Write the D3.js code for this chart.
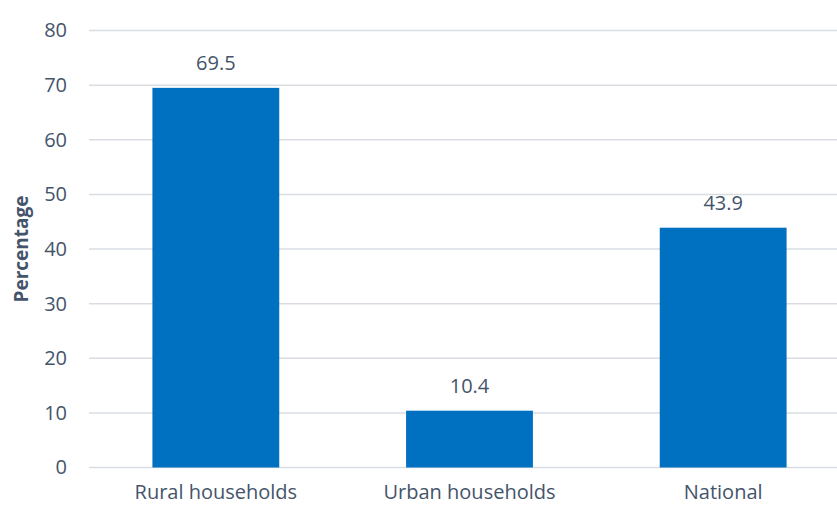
<!DOCTYPE html>
<html>
<head>
<meta charset="utf-8">
<script src="https://cdn.jsdelivr.net/npm/d3@7"></script>
<style>
  body { margin: 0; background: #fff; }
  text { font-family: "Open Sans", "Noto Sans", sans-serif; fill: #44546a; }
</style>
</head>
<body>
<div id="chart"></div>
<script>
//Chart data
const categories = ["Rural households", "Urban households", "National"];
const values = [69.5, 10.4, 43.9];
const yTicks = [0, 10, 20, 30, 40, 50, 60, 70, 80];

const width = 837;
const height = 506;

const svg = d3.select("#chart")
    .append("svg")
    .attr("width", width)
    .attr("height", height);

//Scales
const xScale = d3.scaleBand()
    .domain(categories)
    .range([89, 850])
    .paddingInner(0.5)
    .paddingOuter(0.25);

const yScale = d3.scaleLinear()
    .domain([0, 80])
    .range([467.5, 30.5]);

//Gridlines
svg.append("g")
    .selectAll("line")
    .data(yTicks)
    .enter()
    .append("line")
    .attr("x1", 89)
    .attr("x2", width)
    .attr("y1", d => yScale(d))
    .attr("y2", d => yScale(d))
    .attr("stroke", "#d9dde3")
    .attr("stroke-width", 1.5);

//Left axis, tick labels only
const leftAxis = svg.append("g")
    .attr("transform", "translate(67,0)")
    .call(d3.axisLeft(yScale).tickValues(yTicks).tickSize(0).tickPadding(0));
leftAxis.select(".domain").remove();
leftAxis.selectAll("text")
    .style("font-size", "20px")
    .style("fill", "#44546a");

//Bars
svg.append("g")
    .selectAll("rect")
    .data(values)
    .enter()
    .append("rect")
    .attr("x", (d, i) => xScale(categories[i]))
    .attr("y", d => yScale(d))
    .attr("width", xScale.bandwidth())
    .attr("height", d => yScale(0) - yScale(d))
    .attr("fill", "#0070c0");

//Value labels
svg.append("g")
    .selectAll("text")
    .data(values)
    .enter()
    .append("text")
    .attr("x", (d, i) => xScale(categories[i]) + xScale.bandwidth() / 2)
    .attr("y", d => yScale(d) - 18)
    .attr("text-anchor", "middle")
    .style("font-size", "20px")
    .text(d => d.toFixed(1));

//Bottom axis labels
const bottomAxis = svg.append("g")
    .attr("transform", "translate(0," + yScale(0) + ")")
    .call(d3.axisBottom(xScale).tickSize(0).tickPadding(17));
bottomAxis.select(".domain").remove();
bottomAxis.selectAll("text")
    .style("font-size", "20px")
    .style("fill", "#44546a");

//Y axis title
svg.append("text")
    .attr("transform", "translate(28,249) rotate(-90)")
    .attr("text-anchor", "middle")
    .style("font-size", "19px")
    .style("font-weight", "bold")
    .text("Percentage");
</script>
</body>
</html>
